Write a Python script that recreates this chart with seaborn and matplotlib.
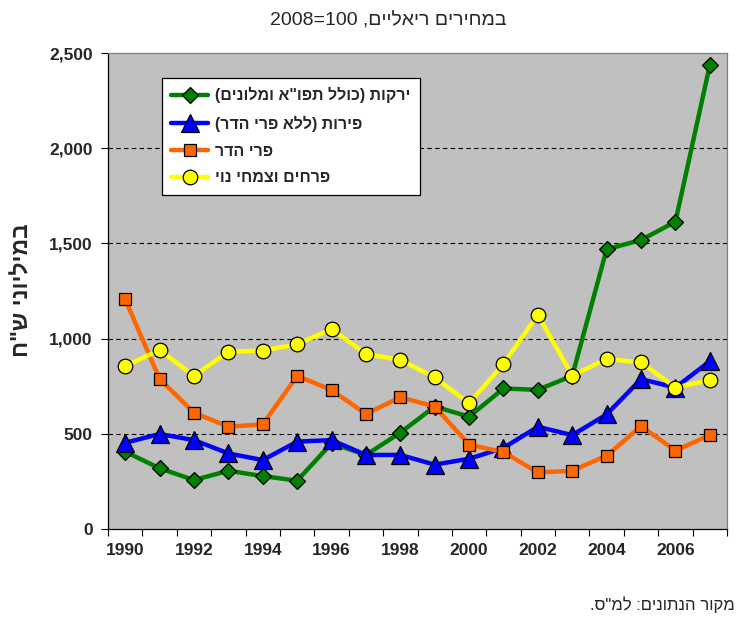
import pandas as pd
import numpy as np
import matplotlib
matplotlib.use("Agg")
import matplotlib.pyplot as plt
import seaborn as sns

# ---------------------------
# DATA
# ---------------------------
years = list(range(1990, 2008))
vegetables = [406, 319, 257, 306, 278, 254, 450, 389, 506, 643, 590, 738, 731, 805, 1469, 1518, 1614, 2437]
fruits = [453, 499, 467, 397, 362, 459, 467, 389, 389, 338, 369, 426, 537, 493, 602, 787, 743, 881]
citrus = [1206, 788, 611, 537, 550, 804, 730, 604, 692, 643, 443, 404, 297, 306, 385, 540, 412, 493]
flowers = [856, 940, 804, 931, 937, 970, 1050, 919, 888, 796, 660, 867, 1125, 805, 893, 875, 743, 782]

# Hebrew labels (logical order)
labels = ['ירקות (כולל תפו"א ומלונים)', 'פירות (ללא פרי הדר)', 'פרי הדר', 'פרחים וצמחי נוי']
ylabel_he = 'במיליוני ש"ח'
title_he = 'במחירים ריאליים'
source_he = 'מקור הנתונים: למ"ס.'
year_ticks = list(range(1990, 2007, 2))
y_ticks = [0, 500, 1000, 1500, 2000, 2500]


def vis(s):
    # matplotlib has no bidi: reverse to visual order, mirror brackets
    return s[::-1].translate(str.maketrans("()", ")("))


df = pd.DataFrame({"year": years, "veg": vegetables, "fruit": fruits,
                   "citrus": citrus, "flowers": flowers})

# ---------------------------
# FIGURE
# ---------------------------
sns.set_style("white")
plt.rcParams['font.family'] = ['Liberation Sans Narrow', 'Liberation Sans', 'DejaVu Sans']

fig = plt.figure(figsize=(7.42, 6.17), dpi=100)
ax = fig.add_axes([0.1456, 0.1426, 0.8342, 0.7715])
ax.set_facecolor("#C0C0C0")

styles = [
    ("veg", "#008000", "D", 8.5),
    ("fruit", "#0000FF", "^", 13),
    ("citrus", "#FF6600", "s", 9),
    ("flowers", "#FFFF00", "o", 10.5),
]
for (col, color, mk, ms), lab in zip(styles, labels):
    sns.lineplot(data=df, x="year", y=col, ax=ax, color=color, lw=3.2,
                 marker=mk, markersize=ms, markeredgecolor="black",
                 markeredgewidth=0.9, label=vis(lab), zorder=3)

ax.set_xlim(1989.5, 2007.5)
ax.set_ylim(0, 2500)
ax.set_xlabel("")
ax.set_ylabel("")

# y axis
ax.set_yticks(y_ticks)
ax.set_yticklabels([f"{v:,}" for v in y_ticks], fontsize=12.5, fontweight="bold")
ax.tick_params(axis="y", direction="out", length=5, width=0.8, color="black", pad=6, left=True)
for v in y_ticks[1:-1]:
    ax.axhline(v, color="black", lw=0.8, ls=(0, (4, 3)), zorder=1)

# x axis: ticks at category borders, labels at category centres
ax.set_xticks(np.arange(1989.5, 2008, 1))
ax.set_xticklabels([])
ax.set_xticks(year_ticks, minor=True)
ax.set_xticklabels([str(y) for y in year_ticks], minor=True, fontsize=12.5, fontweight="bold")
ax.tick_params(axis="x", which="major", direction="out", length=5, width=0.8, color="black", bottom=True)
ax.tick_params(axis="x", which="minor", length=0, pad=10)

for side in ["left", "bottom"]:
    ax.spines[side].set_color("black")
    ax.spines[side].set_linewidth(0.9)
for side in ["top", "right"]:
    ax.spines[side].set_color("#808080")
    ax.spines[side].set_linewidth(0.9)

leg = ax.legend(loc="upper left", bbox_to_anchor=(0.087, 0.948), borderaxespad=0,
                frameon=True, fancybox=False, edgecolor="black", framealpha=1,
                handlelength=2.3, borderpad=0.6, labelspacing=0.75, handletextpad=0.4,
                prop={"weight": "bold", "size": 11.5})
leg.get_frame().set_linewidth(0.9)

# texts
fig.text(0.523, 0.967, "2008=100 ," + vis(title_he), ha="center", va="center", fontsize=14,
         family=["Liberation Sans", "DejaVu Sans"])
fig.text(0.030, 0.530, vis(ylabel_he), rotation=90, ha="center", va="center",
         fontsize=16.5, fontweight="bold", family=["Liberation Sans", "DejaVu Sans"])
fig.text(0.990, 0.020, vis(source_he), ha="right", va="center", fontsize=12,
         family=["Liberation Sans", "DejaVu Sans"])

fig.savefig("out.png", dpi=100)
